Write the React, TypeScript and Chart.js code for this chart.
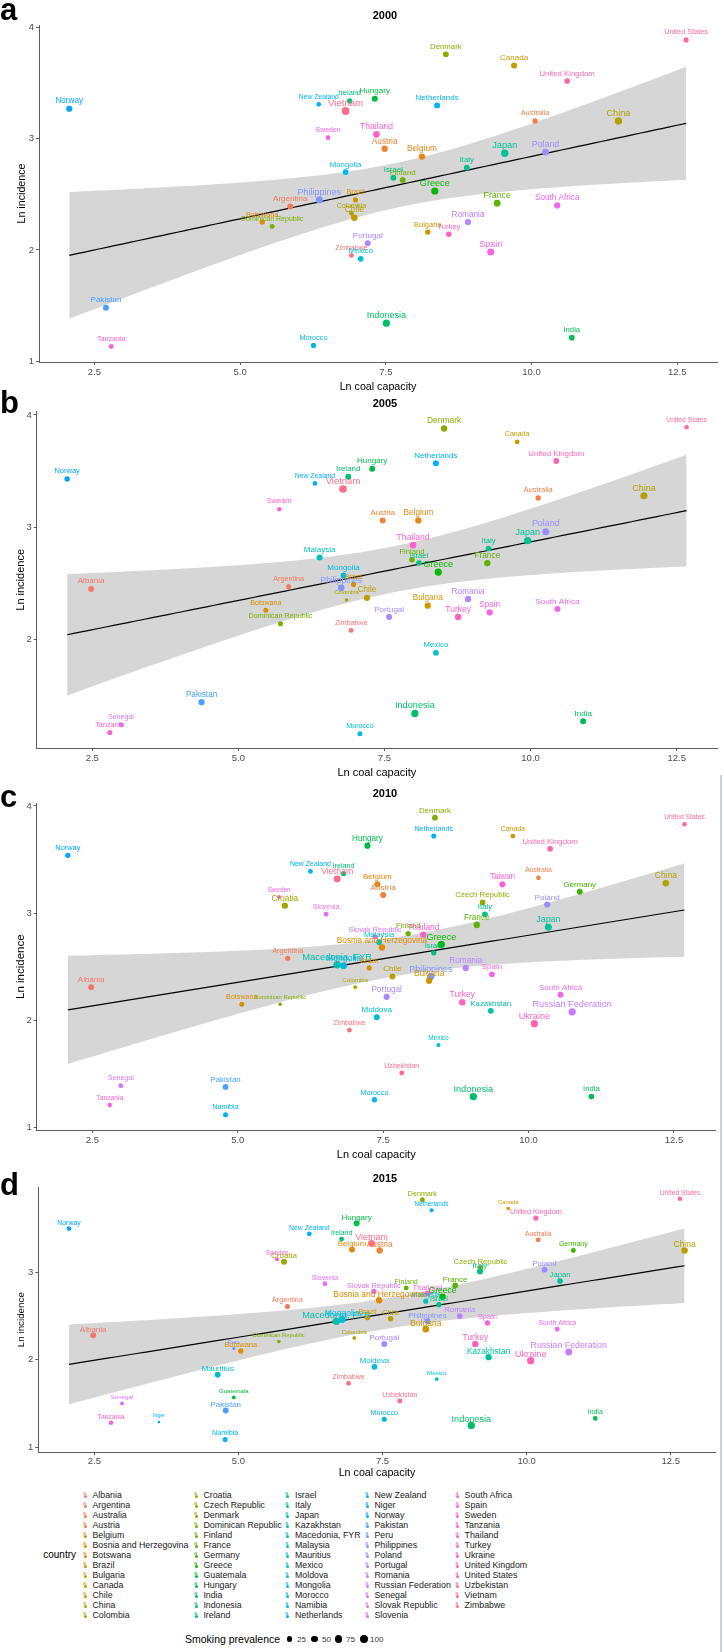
import React, { useEffect, useRef } from "react";
import { Chart, registerables } from "chart.js";

Chart.register(...registerables);

const FONT = '"Liberation Sans", Arial, Helvetica, sans-serif';
Chart.defaults.font.family = FONT;

// ---------------- DATA ----------------
const legendCountries = [
  "Albania", "Argentina", "Australia", "Austria", "Belgium", "Bosnia and Herzegovina", "Botswana", "Brazil", "Bulgaria", "Canada", "Chile", "China", "Colombia",
  "Croatia", "Czech Republic", "Denmark", "Dominican Republic", "Finland", "France", "Germany", "Greece", "Guatemala", "Hungary", "India", "Indonesia", "Ireland",
  "Israel", "Italy", "Japan", "Kazakhstan", "Macedonia, FYR", "Malaysia", "Mauritius", "Mexico", "Moldova", "Mongolia", "Morocco", "Namibia", "Netherlands",
  "New Zealand", "Niger", "Norway", "Pakistan", "Peru", "Philippines", "Poland", "Portugal", "Romania", "Russian Federation", "Senegal", "Slovak Republic", "Slovenia",
  "South Africa", "Spain", "Sweden", "Tanzania", "Thailand", "Turkey", "Ukraine", "United Kingdom", "United States", "Uzbekistan", "Vietnam", "Zimbabwe",
];

const years = ["2000", "2005", "2010", "2015"];
const panelLetters = ["a", "b", "c", "d"];
const xTickValues = [2.5, 5, 7.5, 10, 12.5];
const yTicksA = [1, 2, 3, 4];
const yTicksB = [2, 3, 4];
const yTicksC = [1, 2, 3, 4];
const yTicksD = [1, 2, 3];
const sizeBreaks = [25, 50, 75, 100];

// Panel a — 2000
const countriesA = ["Norway", "New Zealand", "Ireland", "Vietnam", "Hungary", "Sweden", "Mongolia", "Philippines", "Argentina", "Botswana", "Dominican Republic", "Brazil", "Colombia", "Chile", "Portugal", "Zimbabwe", "Mexico", "Pakistan", "Tanzania", "Morocco", "Denmark", "Canada", "United States", "United Kingdom", "Netherlands", "Australia", "China", "Thailand", "Austria", "Belgium", "Japan", "Poland", "Italy", "Israel", "Finland", "Greece", "France", "South Africa", "Romania", "Bulgaria", "Turkey", "Spain", "Indonesia", "India"];
const coalA = [2.07, 6.35, 6.88, 6.81, 7.31, 6.51, 6.81, 6.36, 5.86, 5.38, 5.55, 6.98, 6.91, 6.96, 7.19, 6.91, 7.07, 2.70, 2.79, 6.26, 8.53, 9.70, 12.65, 10.61, 8.38, 10.06, 11.49, 7.34, 7.48, 8.12, 9.54, 10.24, 8.89, 7.63, 7.79, 8.34, 9.41, 10.44, 8.91, 8.22, 8.58, 9.30, 7.51, 10.69];
const incidenceA = [3.27, 3.31, 3.34, 3.25, 3.36, 3.01, 2.70, 2.45, 2.39, 2.25, 2.21, 2.45, 2.33, 2.29, 2.06, 1.95, 1.92, 1.48, 1.13, 1.14, 3.76, 3.66, 3.89, 3.52, 3.30, 3.16, 3.16, 3.04, 2.91, 2.84, 2.87, 2.88, 2.74, 2.65, 2.63, 2.53, 2.42, 2.40, 2.25, 2.16, 2.14, 1.98, 1.34, 1.21];
const smokingA = [47, 18, 29, 93, 44, 20, 37, 71, 42, 29, 22, 25, 21, 55, 43, 21, 37, 44, 23, 27, 37, 44, 27, 37, 42, 29, 78, 59, 50, 50, 78, 65, 37, 40, 40, 75, 62, 47, 49, 31, 33, 68, 75, 35];

// Panel b — 2005
const countriesB = ["Norway", "New Zealand", "Ireland", "Hungary", "Vietnam", "Sweden", "Malaysia", "Mongolia", "Philippines", "Brazil", "Colombia", "Chile", "Albania", "Argentina", "Botswana", "Dominican Republic", "Zimbabwe", "Pakistan", "Senegal", "Tanzania", "Morocco", "Denmark", "Canada", "United States", "United Kingdom", "Netherlands", "Australia", "China", "Austria", "Belgium", "Thailand", "Poland", "Japan", "Italy", "Finland", "Israel", "Greece", "France", "Romania", "Bulgaria", "Turkey", "Spain", "Portugal", "South Africa", "Mexico", "Indonesia", "India"];
const coalB = [2.07, 6.31, 6.88, 7.29, 6.79, 5.70, 6.39, 6.80, 6.76, 6.97, 6.85, 7.20, 2.48, 5.86, 5.47, 5.72, 6.93, 4.37, 2.99, 2.80, 7.08, 8.52, 9.77, 12.67, 10.44, 8.38, 10.13, 11.94, 7.47, 8.08, 7.99, 10.26, 9.95, 9.28, 7.97, 8.09, 8.42, 9.26, 8.93, 8.24, 8.76, 9.30, 7.58, 10.46, 8.38, 8.02, 10.90];
const incidenceB = [3.43, 3.39, 3.45, 3.52, 3.34, 3.16, 2.73, 2.57, 2.46, 2.49, 2.35, 2.37, 2.45, 2.47, 2.26, 2.14, 2.08, 1.44, 1.24, 1.17, 1.16, 3.88, 3.76, 3.89, 3.59, 3.57, 3.26, 3.28, 3.06, 3.06, 2.84, 2.96, 2.88, 2.81, 2.71, 2.68, 2.60, 2.68, 2.36, 2.30, 2.20, 2.24, 2.20, 2.27, 1.88, 1.34, 1.27];
const smokingB = [31, 19, 41, 42, 88, 19, 42, 42, 60, 25, 8, 47, 42, 25, 24, 25, 22, 47, 23, 27, 24, 53, 22, 18, 39, 42, 29, 70, 39, 50, 59, 68, 70, 33, 33, 33, 75, 51, 50, 47, 55, 47, 43, 44, 37, 78, 42];

// Panel c — 2010
const countriesC = ["Norway", "New Zealand", "Ireland", "Vietnam", "Hungary", "Sweden", "Croatia", "Slovenia", "Argentina", "Macedonia, FYR", "Mongolia", "Albania", "Botswana", "Dominican Republic", "Colombia", "Zimbabwe", "Senegal", "Tanzania", "Pakistan", "Namibia", "Denmark", "Netherlands", "Canada", "United States", "United Kingdom", "Belgium", "Austria", "Taiwan", "Australia", "Germany", "China", "Czech Republic", "Italy", "Poland", "France", "Japan", "Finland", "Thailand", "Slovak Republic", "Malaysia", "Bosnia and Herzegovina", "Greece", "Israel", "Brazil", "Chile", "Philippines", "Bulgaria", "Romania", "Spain", "Portugal", "Moldova", "Turkey", "Kazakhstan", "Ukraine", "South Africa", "Russian Federation", "Mexico", "Uzbekistan", "Morocco", "Indonesia", "India"];
const coalC = [2.08, 6.25, 6.82, 6.71, 7.23, 5.71, 5.81, 6.52, 5.86, 6.71, 6.82, 2.48, 5.07, 5.73, 7.02, 6.92, 2.99, 2.80, 4.79, 4.79, 8.39, 8.37, 9.73, 12.68, 10.37, 7.40, 7.50, 9.55, 10.17, 10.88, 12.36, 9.21, 9.25, 10.32, 9.11, 10.34, 7.93, 8.19, 7.36, 7.43, 7.48, 8.50, 8.37, 7.26, 7.66, 8.32, 8.29, 8.92, 9.37, 7.56, 7.39, 8.86, 9.35, 10.10, 10.55, 10.75, 8.45, 7.82, 7.35, 9.05, 11.08];
const incidenceC = [3.54, 3.39, 3.37, 3.32, 3.63, 3.15, 3.07, 2.99, 2.58, 2.52, 2.51, 2.31, 2.15, 2.15, 2.31, 1.91, 1.39, 1.21, 1.38, 1.12, 3.89, 3.72, 3.72, 3.83, 3.60, 3.27, 3.17, 3.27, 3.33, 3.20, 3.28, 3.10, 2.99, 3.08, 2.89, 2.87, 2.81, 2.80, 2.78, 2.73, 2.68, 2.71, 2.63, 2.49, 2.41, 2.41, 2.37, 2.49, 2.43, 2.22, 2.03, 2.17, 2.09, 1.97, 2.24, 2.08, 1.77, 1.51, 1.26, 1.29, 1.29];
const smokingC = [29, 21, 25, 65, 47, 12, 50, 21, 27, 85, 60, 42, 24, 8, 10, 21, 23, 17, 40, 25, 40, 25, 20, 18, 37, 42, 45, 47, 19, 40, 55, 37, 37, 44, 50, 65, 30, 53, 29, 35, 50, 75, 30, 25, 42, 68, 50, 50, 40, 47, 44, 53, 38, 75, 41, 77, 14, 23, 29, 77, 35];

// Panel d — 2015
const countriesD = ["Norway", "New Zealand", "Ireland", "Hungary", "Belgium", "Vietnam", "Austria", "Sweden", "Croatia", "Slovenia", "Argentina", "Macedonia, FYR", "Mongolia", "Albania", "Dominican Republic", "Peru", "Botswana", "Colombia", "Mauritius", "Zimbabwe", "Guatemala", "Senegal", "Pakistan", "Tanzania", "Niger", "Namibia", "Denmark", "Netherlands", "Canada", "United States", "United Kingdom", "Australia", "Germany", "China", "Czech Republic", "Italy", "Poland", "Japan", "France", "Finland", "Slovak Republic", "Thailand", "Greece", "Malaysia", "Israel", "Bosnia and Herzegovina", "Brazil", "Chile", "Philippines", "Bulgaria", "Romania", "Spain", "Portugal", "Turkey", "Kazakhstan", "Moldova", "Ukraine", "Russian Federation", "South Africa", "Mexico", "Uzbekistan", "Morocco", "Indonesia", "India"];
const coalD = [2.06, 6.23, 6.79, 7.05, 6.97, 7.31, 7.45, 5.67, 5.79, 6.50, 5.85, 6.70, 6.80, 2.48, 5.70, 4.92, 5.04, 7.01, 4.64, 6.91, 4.92, 2.98, 4.78, 2.79, 3.62, 4.77, 8.19, 8.35, 9.68, 12.66, 10.16, 10.20, 10.81, 12.74, 9.20, 9.19, 10.31, 10.58, 8.76, 7.91, 7.35, 8.28, 8.54, 8.25, 8.48, 7.44, 7.24, 7.64, 8.28, 8.25, 8.84, 9.32, 7.53, 9.11, 9.34, 7.36, 10.07, 10.73, 10.53, 8.44, 7.80, 7.53, 9.04, 11.19];
const incidenceD = [3.50, 3.44, 3.38, 3.56, 3.26, 3.33, 3.25, 3.15, 3.12, 2.87, 2.61, 2.44, 2.46, 2.28, 2.21, 2.13, 2.10, 2.25, 1.83, 1.73, 1.57, 1.50, 1.42, 1.28, 1.29, 1.09, 3.83, 3.71, 3.73, 3.84, 3.62, 3.37, 3.25, 3.25, 3.05, 3.01, 3.03, 2.90, 2.85, 2.82, 2.78, 2.76, 2.72, 2.67, 2.63, 2.68, 2.48, 2.47, 2.44, 2.35, 2.50, 2.42, 2.18, 2.18, 2.03, 1.92, 1.99, 2.09, 2.35, 1.78, 1.53, 1.32, 1.25, 1.33];
const smokingD = [20, 20, 21, 42, 40, 68, 50, 12, 44, 20, 25, 78, 60, 42, 8, 6, 31, 9, 40, 21, 10, 11, 40, 18, 5, 25, 24, 12, 8, 18, 27, 19, 22, 55, 35, 45, 37, 35, 40, 23, 31, 37, 55, 27, 27, 53, 25, 33, 40, 59, 37, 31, 42, 55, 50, 37, 78, 65, 21, 10, 23, 25, 75, 20];

// ---------------- HELPERS ----------------
function hcl(h: number, c = 100, l = 65) {
  const hr = (h * Math.PI) / 180;
  const U = c * Math.cos(hr);
  const V = c * Math.sin(hr);
  const Xn = 95.047, Yn = 100, Zn = 108.883;
  const Y = Yn * (l > 8 ? Math.pow((l + 16) / 116, 3) : l / 903.3);
  const t = Xn + 15 * Yn + 3 * Zn;
  const un = (4 * Xn) / t, vn = (9 * Yn) / t;
  const u = U / (13 * l) + un;
  const v = V / (13 * l) + vn;
  const X = (9 * Y * u) / (4 * v);
  const Z = -X / 3 - 5 * Y + (3 * Y) / v;
  const x = X / 100, y = Y / 100, z = Z / 100;
  const r = 3.240479 * x - 1.53715 * y - 0.498535 * z;
  const g = -0.969256 * x + 1.875992 * y + 0.041556 * z;
  const b = 0.055648 * x - 0.204043 * y + 1.057311 * z;
  const gam = (q: number) => {
    const w = q <= 0.0031308 ? 12.92 * q : 1.055 * Math.pow(Math.max(q, 0), 1 / 2.4) - 0.055;
    return Math.round(Math.max(0, Math.min(1, w)) * 255);
  };
  return `rgb(${gam(r)},${gam(g)},${gam(b)})`;
}

function colorOf(name: string) {
  const i = legendCountries.indexOf(name);
  const idx = i >= 0 ? i : 54.5;
  return hcl(15 + (idx * 360) / legendCountries.length);
}
const sizeT = (s: number) => Math.sqrt(Math.max(0, s - 5) / 95);
const radiusOf = (s: number) => 1.3 + 2.7 * sizeT(s);
const fontOf = (s: number) => 5 + 4.8 * sizeT(s);

function regression(xs: number[], ys: number[]) {
  const n = xs.length;
  const mx = xs.reduce((a, b) => a + b, 0) / n;
  const my = ys.reduce((a, b) => a + b, 0) / n;
  let sxx = 0, sxy = 0;
  for (let i = 0; i < n; i++) {
    sxx += (xs[i] - mx) ** 2;
    sxy += (xs[i] - mx) * (ys[i] - my);
  }
  const b = sxy / sxx;
  const a = my - b * mx;
  let sse = 0;
  for (let i = 0; i < n; i++) sse += (ys[i] - a - b * xs[i]) ** 2;
  const df = n - 2;
  const s = Math.sqrt(sse / df);
  const tq = 1.96 + 2.37 / df + 2.8 / (df * df);
  const lo = Math.min(...xs), hi = Math.max(...xs);
  const fit: any[] = [], upper: any[] = [], lower: any[] = [];
  const steps = 80;
  for (let k = 0; k <= steps; k++) {
    const x = lo + ((hi - lo) * k) / steps;
    const yh = a + b * x;
    const se = s * Math.sqrt(1 / n + (x - mx) ** 2 / sxx);
    fit.push({ x, y: yh });
    upper.push({ x, y: yh + tq * se });
    lower.push({ x, y: yh - tq * se });
  }
  return { fit, upper, lower };
}

const panels = [
  { countries: countriesA, coal: coalA, inc: incidenceA, smoke: smokingA, yTicks: yTicksA },
  { countries: countriesB, coal: coalB, inc: incidenceB, smoke: smokingB, yTicks: yTicksB },
  { countries: countriesC, coal: coalC, inc: incidenceC, smoke: smokingC, yTicks: yTicksC },
  { countries: countriesD, coal: coalD, inc: incidenceD, smoke: smokingD, yTicks: yTicksD },
];

// layout (pixels) per panel
const layouts = [
  { top: 0, height: 397, area: { left: 39, right: 717, top: 25, bottom: 362 }, x: [1.551, 13.181], y: [0.991, 4.024], yTitleX: 22, yTitleSize: 10.7, xTitleY: 387, xTitleSize: 10.7, tickPad: 2, letterBase: 20, yearY: 15 },
  { top: 397, height: 386, area: { left: 36.7, right: 717, top: 411.7, bottom: 748 }, x: [1.549, 13.19], y: [1.032, 4.029], yTitleX: 20.7, yTitleSize: 11, xTitleY: 773, xTitleSize: 11, tickPad: 2, letterBase: 413, yearY: 403 },
  { top: 783, height: 382, area: { left: 36.7, right: 715.7, top: 803.3, bottom: 1130 }, x: [1.544, 13.217], y: [0.978, 4.025], yTitleX: 20.8, yTitleSize: 11.5, xTitleY: 1155, xTitleSize: 11, tickPad: 2, letterBase: 807, yearY: 793 },
  { top: 1165, height: 317, area: { left: 38.3, right: 715.7, top: 1187, bottom: 1452.3 }, x: [1.528, 13.28], y: [0.943, 3.975], yTitleX: 21.7, yTitleSize: 9.8, xTitleY: 1472.7, xTitleSize: 10.7, tickPad: 0, letterBase: 1195, yearY: 1178 },
];

const AXIS = "#5a5a6a";
const TICKTXT = "#4d4d4d";
const NUDGE = 0.068;

function Panel({ idx }: { idx: number }) {
  const ref = useRef<HTMLCanvasElement>(null);
  const p = panels[idx];
  const L = layouts[idx];
  useEffect(() => {
    const colors = p.countries.map(colorOf);
    const radii = p.smoke.map(radiusOf);
    const fonts = p.smoke.map(fontOf);
    const { fit, upper, lower } = regression(p.coal, p.inc);
    const bottomEdge = L.top + L.height;
    const xLH = L.xTitleSize * 1.2;
    const yLH = L.yTitleSize * 1.2;

    const labelPlugin = {
      id: "pointLabels" + idx,
      afterDatasetsDraw(chart: any) {
        const meta = chart.getDatasetMeta(0);
        const ys = chart.scales.y;
        const ctx = chart.ctx;
        ctx.save();
        ctx.textAlign = "center";
        ctx.textBaseline = "middle";
        meta.data.forEach((el: any, i: number) => {
          const py = ys.getPixelForValue(p.inc[i] + NUDGE);
          ctx.font = `${fonts[i].toFixed(2)}px ${FONT}`;
          ctx.fillStyle = colors[i];
          ctx.fillText(p.countries[i], el.x, py);
        });
        ctx.restore();
      },
    };

    const chart = new Chart(ref.current as HTMLCanvasElement, {
      type: "scatter",
      data: {
        datasets: [
          {
            type: "scatter",
            data: p.coal.map((x, i) => ({ x, y: p.inc[i] })),
            pointRadius: radii,
            pointHoverRadius: radii,
            pointBackgroundColor: colors,
            pointBorderWidth: 0,
            pointBorderColor: colors,
          } as any,
          {
            type: "line",
            data: fit,
            borderColor: "#000000",
            borderWidth: 1.2,
            pointRadius: 0,
            fill: false,
            tension: 0,
          } as any,
          {
            type: "line",
            data: lower,
            borderWidth: 0,
            borderColor: "rgba(0,0,0,0)",
            pointRadius: 0,
            fill: false,
            tension: 0,
          } as any,
          {
            type: "line",
            data: upper,
            borderWidth: 0,
            borderColor: "rgba(0,0,0,0)",
            backgroundColor: "rgba(153,153,153,0.4)",
            pointRadius: 0,
            fill: 2,
            tension: 0,
          } as any,
        ],
      },
      options: {
        responsive: false,
        maintainAspectRatio: false,
        animation: false,
        devicePixelRatio: 1,
        events: [],
        layout: { padding: { left: 0, right: 724 - L.area.right, top: L.area.top - L.top, bottom: 0 } },
        plugins: { legend: { display: false }, tooltip: { enabled: false }, title: { display: false } },
        scales: {
          x: {
            type: "linear",
            min: L.x[0],
            max: L.x[1],
            afterBuildTicks: (s: any) => {
              s.ticks = xTickValues.map((v) => ({ value: v }));
            },
            afterFit: (s: any) => {
              s.height = bottomEdge - L.area.bottom;
            },
            ticks: {
              callback: (v: any) => Number(v).toFixed(1),
              font: { size: 9.5 },
              color: TICKTXT,
              padding: L.tickPad,
              maxRotation: 0,
              autoSkip: false,
            },
            grid: { display: true, drawOnChartArea: false, drawTicks: true, tickLength: 3, color: AXIS },
            border: { display: true, color: AXIS, width: 1 },
            title: {
              display: true,
              text: "Ln coal capacity",
              color: "#000",
              font: { size: L.xTitleSize },
              padding: { top: 0, bottom: bottomEdge - L.xTitleY - xLH / 2 },
            },
          },
          y: {
            type: "linear",
            min: L.y[0],
            max: L.y[1],
            afterBuildTicks: (s: any) => {
              s.ticks = p.yTicks.map((v) => ({ value: v }));
            },
            afterFit: (s: any) => {
              s.width = L.area.left;
            },
            ticks: {
              callback: (v: any) => String(v),
              font: { size: 9.5 },
              color: TICKTXT,
              padding: 2,
              autoSkip: false,
            },
            grid: { display: true, drawOnChartArea: false, drawTicks: true, tickLength: 3, color: AXIS },
            border: { display: true, color: AXIS, width: 1 },
            title: {
              display: true,
              text: "Ln incidence",
              color: "#000",
              font: { size: L.yTitleSize },
              padding: { top: L.yTitleX - yLH / 2, bottom: 0 },
            },
          },
        },
      } as any,
      plugins: [labelPlugin as any],
    });
    return () => chart.destroy();
  }, []);
  return (
    <canvas
      ref={ref}
      width={724}
      height={L.height}
      style={{ position: "absolute", left: 0, top: L.top, width: 724, height: L.height }}
    />
  );
}

function Txt({ x, cy, size, children, bold, color, align, w }: any) {
  const h = Math.ceil(size * 1.6);
  const style: any = {
    position: "absolute",
    top: cy - h / 2,
    height: h,
    lineHeight: h + "px",
    fontSize: size,
    fontWeight: bold ? "bold" : "normal",
    color: color || "#000",
    whiteSpace: "nowrap",
    fontFamily: FONT,
  };
  if (align === "center") {
    style.left = x - (w || 100) / 2;
    style.width = w || 100;
    style.textAlign = "center";
  } else if (align === "right") {
    style.left = x - (w || 100);
    style.width = w || 100;
    style.textAlign = "right";
  } else {
    style.left = x;
  }
  return <div style={style}>{children}</div>;
}

const legendColX = [
  { g: 85.5, t: 92.5 },
  { g: 196.5, t: 203.4 },
  { g: 287.6, t: 295 },
  { g: 367.5, t: 374.5 },
  { g: 457.7, t: 464.6 },
];
const sizeLegendX = [289.4, 314.4, 338.4, 364];
const sizeLegendLabelX = [297, 322, 346, 370];

export default function App() {
  const rows = 13;
  return (
    <div style={{ position: "absolute", left: 0, top: 0, width: 724, height: 1652, background: "#fff", overflow: "hidden", fontFamily: FONT }}>
      {panels.map((_, i) => (
        <Panel key={i} idx={i} />
      ))}
      {layouts.map((L, i) => (
        <div
          key={"l" + i}
          style={{ position: "absolute", left: 0, top: L.letterBase - 0.8465 * 31, fontSize: 31, lineHeight: "31px", fontWeight: "bold", fontFamily: FONT, color: "#000" }}
        >
          {panelLetters[i]}
        </div>
      ))}
      {layouts.map((L, i) => (
        <Txt key={"y" + i} x={385} cy={L.yearY} size={11} bold align="center" w={80}>
          {years[i]}
        </Txt>
      ))}
      {/* right edge line */}
      <div style={{ position: "absolute", left: 719.5, top: 775, width: 2, height: 877, background: "#c9d1e3" }} />
      {/* country legend */}
      <Txt x={76} cy={1555} size={10} align="right" w={60}>
        country
      </Txt>
      {legendCountries.map((c, i) => {
        const col = Math.floor(i / rows);
        const row = i % rows;
        const cy = 1495 + row * 10;
        const cx = legendColX[col];
        const color = colorOf(c);
        return (
          <React.Fragment key={c}>
            <div style={{ position: "absolute", left: cx.g - 1.5, top: cy - 0.5, width: 3, height: 3, borderRadius: 2, background: color }} />
            <Txt x={cx.g - 2.5} cy={cy - 1.2} size={5.5} color={color}>
              a
            </Txt>
            <Txt x={cx.t} cy={cy} size={8.8} color="#1a1a1a">
              {c}
            </Txt>
          </React.Fragment>
        );
      })}
      {/* size legend */}
      <Txt x={185} cy={1639} size={10.5}>
        Smoking prevalence
      </Txt>
      {sizeBreaks.map((s, i) => {
        const r = radiusOf(s);
        return (
          <React.Fragment key={s}>
            <div style={{ position: "absolute", left: sizeLegendX[i] - r, top: 1639 - r, width: 2 * r, height: 2 * r, borderRadius: r, background: "#000" }} />
            <Txt x={sizeLegendLabelX[i]} cy={1639} size={8} color="#333">
              {String(s)}
            </Txt>
          </React.Fragment>
        );
      })}
    </div>
  );
}
